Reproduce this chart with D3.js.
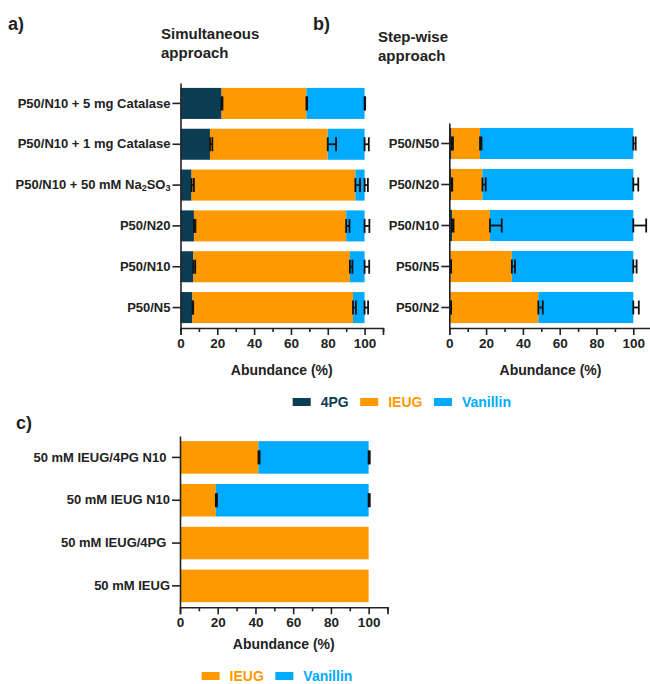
<!DOCTYPE html>
<html>
<head>
<meta charset="utf-8">
<script src="https://cdn.jsdelivr.net/npm/d3@7"></script>
<style>
  body { margin: 0; background: #fff; }
  text { font-family: "Liberation Sans", Arial, sans-serif; font-weight: bold; fill: #222; }
  .axis path, .axis line { stroke: #222; stroke-width: 1.6; }
</style>
</head>
<body>
<div id="chart"></div>
<script>
// ---- panel a: simultaneous approach (top to bottom)
const catsA = ["P50/N10 + 5 mg Catalase", "P50/N10 + 1 mg Catalase", "P50/N10 + 50 mM Na2SO3", "P50/N20", "P50/N10", "P50/N5"];
const a4PG = [22.3, 16, 6, 7.3, 7, 6.5];
const aIEUG = [46.1, 64, 89, 82.7, 85, 87.2];
const aVan = [31.6, 20, 5, 10, 8, 6.3];
const a4PGErr = [0.5, 1.3, 1.3, 0.8, 1, 0.4];
const aIEUGErr = [0.4, 4.5, 2.5, 1.8, 1.4, 1.6];
const aVanErr = [0.3, 2.3, 1.8, 2.6, 2.5, 1.9];

// ---- panel b: step-wise approach
const catsB = ["P50/N50", "P50/N20", "P50/N10", "P50/N5", "P50/N2"];
const b4PG = [1.2, 1, 1.5, 0.6, 0.6];
const bIEUG = [15.5, 17, 20.6, 33.4, 47.8];
const bVan = [83.3, 82, 77.9, 66, 51.6];
const b4PGErr = [0.8, 0.6, 0.8, 0.4, 0.4];
const bIEUGErr = [0.8, 1.8, 6.4, 1.7, 2.4];
const bVanErr = [1.3, 2.7, 7, 1.8, 3];

// ---- panel c
const catsC = ["50 mM IEUG/4PG N10 ", "50 mM IEUG N10", "50 mM IEUG/4PG ", "50 mM IEUG"];
const cIEUG = [41.6, 19, 100, 100];
const cVan = [58.4, 81, 0, 0];
const cIEUGErr = [0.6, 0.6, 0, 0];
const cVanErr = [0.6, 0.6, 0, 0];

const xTicks = d3.range(0, 111, 10);
const colors = { "4PG": "#0b3d54", "IEUG": "#ff9900", "Vanillin": "#00aaff" };

const svg = d3.select("#chart").append("svg")
    .attr("width", 650)
    .attr("height", 684);

function panel(cats, series, xr, yr, titleOffset) {
    const x = d3.scaleLinear().domain([0, 110]).range(xr);
    const y = d3.scaleBand().domain(cats).range(yr).paddingInner(0.24).paddingOuter(0.12);

    const rows = cats.map((c, i) => {
        const r = { cat: c };
        series.forEach(s => r[s.key] = s.values[i]);
        return r;
    });
    const stacked = d3.stack().keys(series.map(s => s.key))(rows);

    const g = svg.append("g");

    g.selectAll("g.layer")
        .data(stacked)
        .join("g")
        .attr("class", "layer")
        .attr("fill", d => colors[d.key])
        .selectAll("rect")
        .data(d => d)
        .join("rect")
        .attr("x", d => x(d[0]))
        .attr("y", d => y(d.data.cat))
        .attr("width", d => x(d[1]) - x(d[0]))
        .attr("height", y.bandwidth());

    // one-sided error bars at the end of every segment
    stacked.forEach((layer, k) => {
        const err = series[k].err;
        layer.forEach((d, i) => {
            if (!err[i] || d[1] - d[0] <= 0) return;
            const cy = y(d.data.cat) + y.bandwidth() / 2;
            const x0 = x(d[1]), x1 = x(d[1] + err[i]);
            const eb = g.append("g").attr("stroke", "#111").attr("stroke-width", 1.8);
            eb.append("line").attr("x1", x0).attr("x2", x1).attr("y1", cy).attr("y2", cy);
            eb.append("line").attr("x1", x0).attr("x2", x0).attr("y1", cy - 7).attr("y2", cy + 7);
            eb.append("line").attr("x1", x1).attr("x2", x1).attr("y1", cy - 7).attr("y2", cy + 7);
        });
    });

    // x axis
    const xAxis = d3.axisBottom(x)
        .tickValues(xTicks)
        .tickSizeOuter(0)
        .tickSize(7)
        .tickPadding(3)
        .tickFormat(d => (d % 20 === 0 && d <= 100) ? d : "");
    const xg = g.append("g")
        .attr("class", "axis")
        .attr("transform", `translate(0,${yr[1]})`)
        .call(xAxis);
    xg.selectAll(".tick line").attr("y2", d => d % 20 === 0 ? 7 : 4);
    xg.selectAll(".tick text").style("font-size", "13.5px").attr("fill", "#222");

    // y axis
    const yg = g.append("g")
        .attr("class", "axis")
        .attr("transform", `translate(${xr[0]},0)`)
        .call(d3.axisLeft(y).tickSize(8).tickSizeOuter(0).tickPadding(2));
    yg.selectAll(".tick text")
        .style("font-size", "13px")
        .style("white-space", "pre")
        .attr("fill", "#222")
        .each(function(d) {
            if (d.indexOf("Na2SO3") < 0) return;
            const t = d3.select(this).text(null);
            t.append("tspan").text("P50/N10 + 50 mM Na");
            t.append("tspan").text("2").style("font-size", "9px").attr("dy", 2);
            t.append("tspan").text("SO").attr("dy", -2);
            t.append("tspan").text("3").style("font-size", "9px").attr("dy", 2);
        });

    g.append("text")
        .attr("x", (xr[0] + xr[1]) / 2)
        .attr("y", yr[1] + titleOffset)
        .attr("text-anchor", "middle")
        .style("font-size", "14px")
        .text("Abundance (%)");
}

panel(catsA, [
    { key: "4PG", values: a4PG, err: a4PGErr },
    { key: "IEUG", values: aIEUG, err: aIEUGErr },
    { key: "Vanillin", values: aVan, err: aVanErr }
], [180.5, 383], [83, 328], 47);

panel(catsB, [
    { key: "4PG", values: b4PG, err: b4PGErr },
    { key: "IEUG", values: bIEUG, err: bIEUGErr },
    { key: "Vanillin", values: bVan, err: bVanErr }
], [449.3, 651.7], [123, 328], 47);

panel(catsC, [
    { key: "IEUG", values: cIEUG, err: cIEUGErr },
    { key: "Vanillin", values: cVan, err: cVanErr }
], [180, 387.5], [436, 607.3], 42);

// panel letters and titles
function label(txt, x, y, size) {
    svg.append("text").attr("x", x).attr("y", y).style("font-size", size + "px").text(txt);
}
label("a)", 8, 30, 18);
label("b)", 313, 30, 18);
label("c)", 16, 429, 18);
label("Simultaneous", 161, 39, 15);
label("approach", 161, 58, 15);
label("Step-wise", 378, 42, 15);
label("approach", 378, 61, 15);

// legends
function legend(keys, x0, yc) {
    let x = x0;
    keys.forEach(k => {
        svg.append("rect")
            .attr("x", x).attr("y", yc - 4)
            .attr("width", 18).attr("height", 8)
            .attr("fill", colors[k]);
        const t = svg.append("text")
            .attr("x", x + 28).attr("y", yc + 5)
            .style("font-size", "14px")
            .style("fill", colors[k])
            .text(k);
        x += 28 + t.node().getComputedTextLength() + 11.5;
    });
}
legend(["4PG", "IEUG", "Vanillin"], 292.7, 402);
legend(["IEUG", "Vanillin"], 201.6, 676);
</script>
</body>
</html>
